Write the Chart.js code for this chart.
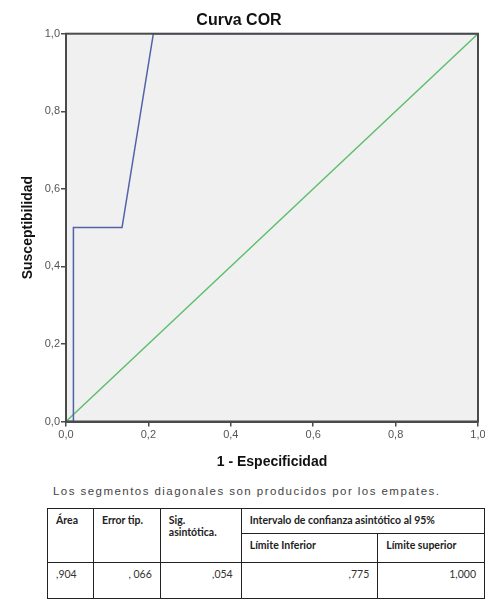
<!DOCTYPE html>
<html lang="es">
<head>
  <meta charset="UTF-8" />
  <title>Curva COR</title>
  <script src="https://cdn.jsdelivr.net/npm/chart.js"></script>
  <style>
    body {
      margin: 0;
      background: #ffffff;
      font-family: 'Liberation Sans', Arial, sans-serif;
      width: 485px;
      height: 599px;
      overflow: hidden;
      position: relative;
    }

    #rocChart {
      position: absolute;
      left: 0;
      top: 0;
    }

    .nota {
      position: absolute;
      left: 53px;
      top: 485px;
      font-size: 11.5px;
      letter-spacing: 1.45px;
      color: #444;
      white-space: nowrap;
    }

    table {
      position: absolute;
      left: 47px;
      top: 508px;
      border-collapse: collapse;
      font-family: Lato, 'Open Sans', sans-serif;
      font-size: 10.5px;
      color: #222;
    }

    td, th {
      border: 1.5px solid #222;
      padding: 0 8px;
    }

    th {
      font-weight: 700;
      text-align: left;
      vertical-align: top;
      padding-top: 5px;
    }

    td {
      text-align: right;
      vertical-align: top;
      padding-top: 5px;
      color: #333;
    }
  </style>
</head>
<body>
  <canvas id="rocChart" width="485" height="480"></canvas>

  <div class="nota">Los segmentos diagonales son producidos por los empates.</div>

  <table>
    <tr style="height:25px">
      <th rowspan="2" style="width:29px">Área</th>
      <th rowspan="2" style="width:50px">Error tip.</th>
      <th rowspan="2" style="width:64px">Sig.<br>asintótica.</th>
      <th colspan="2">Intervalo de confianza asintótico al 95%</th>
    </tr>
    <tr style="height:29px">
      <th style="width:120px">Límite Inferior</th>
      <th style="width:90px">Límite superior</th>
    </tr>
    <tr style="height:36px" id="filaDatos"></tr>
  </table>

  <script>
    // puntos de la curva COR (1 - especificidad, sensibilidad)
    const fpr = [0, 0.018, 0.018, 0.136, 0.212, 1];
    const tpr = [0, 0, 0.5, 0.5, 1, 1];
    // linea de referencia
    const refX = [0, 1];
    const refY = [0, 1];
    const yTicks = [0, 0.2, 0.4, 0.6, 0.8, 1];
    const xTicks = [0, 0.2, 0.4, 0.6, 0.8, 1];

    // tabla del area bajo la curva
    const areaValores = [",904", ", 066", ",054", ",775", "1,000"];

    const fila = document.getElementById("filaDatos");
    areaValores.forEach((v, i) => {
      const td = document.createElement("td");
      td.textContent = v;
      if (i === 0) td.style.textAlign = "left";
      fila.appendChild(td);
    });

    function fmt(v) {
      return Number(v).toFixed(1).replace(".", ",");
    }

    const marcoPlugin = {
      id: "marco",
      beforeDraw(chart) {
        const { ctx, chartArea: a } = chart;
        ctx.save();
        ctx.fillStyle = "#f0f0f0";
        ctx.fillRect(a.left, a.top, a.right - a.left, a.bottom - a.top);
        ctx.restore();
      },
      afterDatasetsDraw(chart) {
        const { ctx, chartArea: a } = chart;
        ctx.save();
        ctx.strokeStyle = "#4a4a4a";
        ctx.lineWidth = 2;
        ctx.strokeRect(a.left, a.top, a.right - a.left, a.bottom - a.top);
        ctx.restore();
      }
    };

    new Chart(document.getElementById("rocChart"), {
      type: "scatter",
      data: {
        datasets: [
          {
            label: "Curva",
            data: fpr.map((x, i) => ({ x, y: tpr[i] })),
            showLine: true,
            borderColor: "#5262a8",
            borderWidth: 1.5,
            pointRadius: 0,
            clip: false
          },
          {
            label: "Referencia",
            data: refX.map((x, i) => ({ x, y: refY[i] })),
            showLine: true,
            borderColor: "#5cbf6c",
            borderWidth: 1.5,
            pointRadius: 0,
            clip: false
          }
        ]
      },
      options: {
        responsive: false,
        animation: false,
        layout: { padding: { left: 0, right: 7, top: 0, bottom: 0 } },
        plugins: {
          legend: { display: false },
          tooltip: { enabled: false },
          title: {
            display: true,
            text: "Curva COR",
            color: "#111",
            font: { family: "'Liberation Sans', Arial", size: 16, weight: "bold" },
            padding: { top: 11, bottom: 3.5 }
          }
        },
        scales: {
          x: {
            type: "linear",
            min: 0,
            max: 1,
            afterBuildTicks: s => { s.ticks = xTicks.map(v => ({ value: v })); },
            afterFit: s => { s.height = 58.5; s.paddingRight = 0; s.paddingLeft = 0; },
            ticks: {
              callback: v => fmt(v),
              color: "#555",
              padding: 2,
              maxRotation: 0,
              font: { family: "'Liberation Sans', Arial", size: 11 }
            },
            grid: { drawOnChartArea: false, tickLength: 5, color: "#4a4a4a", lineWidth: 1.5 },
            border: { color: "#4a4a4a", width: 2 },
            title: {
              display: true,
              text: "1 - Especificidad",
              color: "#111",
              font: { family: "'Liberation Sans', Arial", size: 14, weight: "bold" },
              padding: { top: 0, bottom: 9.6 }
            }
          },
          y: {
            type: "linear",
            min: 0,
            max: 1,
            afterBuildTicks: s => { s.ticks = yTicks.map(v => ({ value: v })); },
            afterFit: s => { s.width = 66; },
            ticks: {
              callback: v => fmt(v),
              color: "#555",
              padding: 1,
              font: { family: "'Liberation Sans', Arial", size: 11 }
            },
            grid: { drawOnChartArea: false, tickLength: 5, color: "#4a4a4a", lineWidth: 1.5 },
            border: { color: "#4a4a4a", width: 2 },
            title: {
              display: true,
              text: "Susceptibilidad",
              color: "#111",
              font: { family: "'Liberation Sans', Arial", size: 14, weight: "bold" },
              padding: { top: 20, bottom: 0 }
            }
          }
        }
      },
      plugins: [marcoPlugin]
    });
  </script>
</body>
</html>
